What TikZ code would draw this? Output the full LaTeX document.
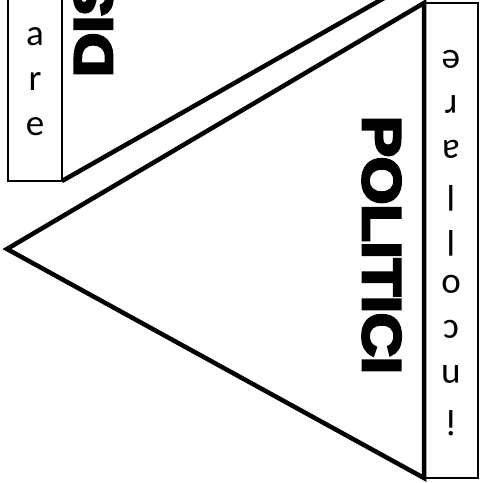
\documentclass[tikz,border=0pt]{standalone}
\usepackage{fontspec}
\setmainfont{Carlito}
\newfontfamily\headfont{Liberation Sans}[BoldFeatures={FakeBold=5}]
\newcommand{\wide}[1]{\scalebox{1.13}[1]{#1}}

\begin{document}
\begin{tikzpicture}[
    x=1pt, y=-1pt,
    edge/.style={draw=black, line width=4.5pt},
    strip/.style={draw=black, line width=2pt},
    letter/.style={font=\fontsize{37}{37}\selectfont, inner sep=0pt, anchor=base},
    title/.style={font=\headfont\bfseries\fontsize{54}{54}\selectfont, inner sep=0pt}
]
\useasboundingbox (0,0) rectangle (481,483);
% tab of the pennant above
\draw[strip] (8,-10) -- (8,181) -- (62,181) -- (62,-10);
\draw[edge] (62,181) -- (400,-11);
\foreach \k/\c in {0/l,1/a,2/r,3/e} {
   \node[letter] (up\k) at (35,45*\k) {\c};
}
\node[title, rotate=90, anchor=base west] (uptitle) at (112,77) {\wide{DIS}};
% main pennant
\coordinate (tip) at (7,249);
\coordinate (top) at (424,3);
\coordinate (bot) at (424,478);
\draw[strip] (top) rectangle (478,478);
\draw[edge] (top) -- (tip) -- (bot) -- cycle;
\foreach \k/\c in {0/e,1/r,2/a,3/l,4/l,5/o,6/c,7/n,8/i} {
   \node[letter, rotate=180] (tab\k) at (451,50+45*\k) {\c};
}
\node[title, rotate=-90, anchor=base] (title) at (363,245) {\wide{POLITICI}};
\end{tikzpicture}
\end{document}
